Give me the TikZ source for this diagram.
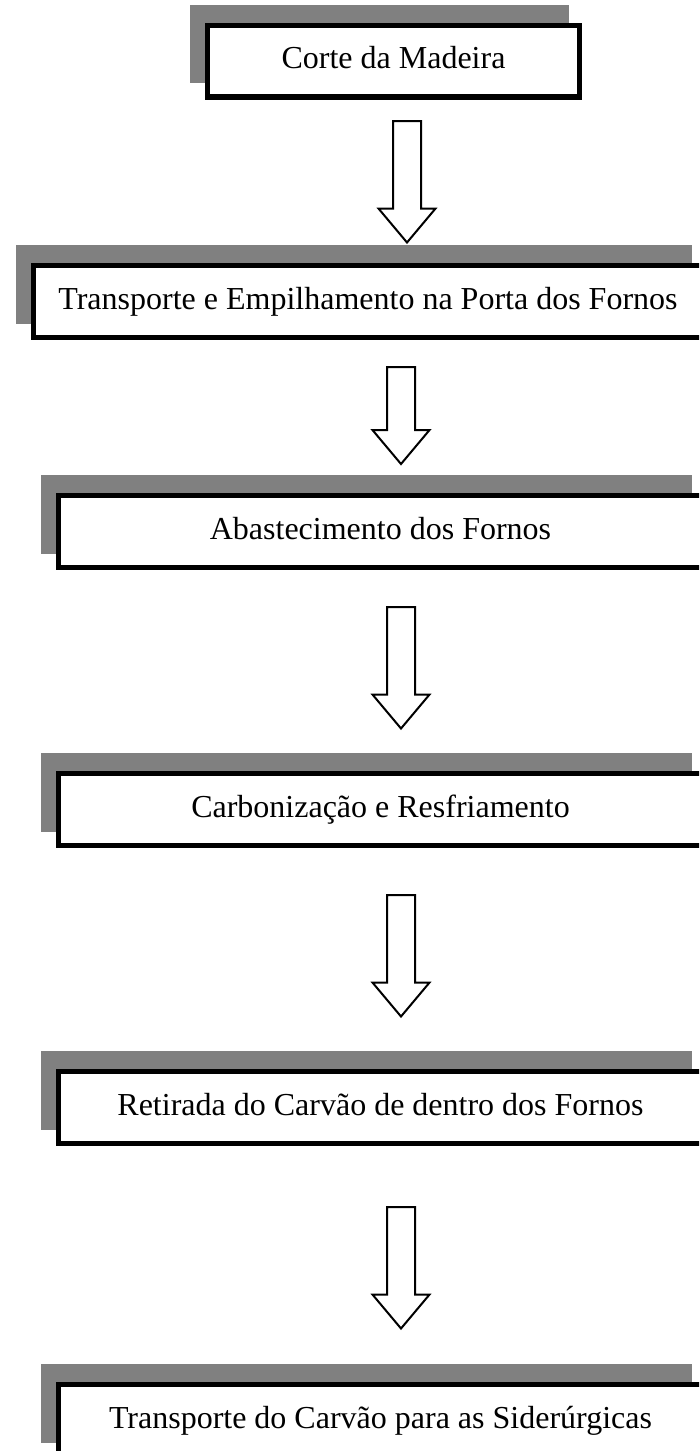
\PassOptionsToPackage{svgnames}{xcolor}
\documentclass[tikz,border=0pt]{standalone}
\usepackage{fontspec}
\setmainfont{Liberation Serif}
\usetikzlibrary{shapes.arrows,shadows}

\begin{document}
\begin{tikzpicture}[x=1pt,y=-1pt,
		stepbox/.style={draw, line width=5.3pt, fill=White, inner sep=0pt,
			minimum height=71.7pt, text height=22pt, text depth=7pt,
			font=\fontsize{32}{38}\selectfont,
			drop shadow={shadow xshift=-14pt, shadow yshift=17pt, fill=Gray,
				draw=Gray, line width=6.5pt, opacity=1}},
		downarrow/.style={single arrow, draw, line width=2pt, fill=White,
			rotate=-90, anchor=tail, inner xsep=0pt, inner ysep=13pt,
			single arrow head extend=14.5pt, single arrow tip angle=80,
			minimum height=121.5pt}]
		\path[use as bounding box, clip] (0,0) rectangle (699,1451);
		\node[stepbox, minimum width=371.7pt] (corte) at (393.5,61) {Corte da Madeira};
		\node[stepbox, minimum width=668.7pt] (empilha) at (368,301.5) {Transporte e Empilhamento na Porta dos Fornos};
		\node[stepbox, minimum width=643.7pt] (abast) at (380.5,531.5) {Abastecimento dos Fornos};
		\node[stepbox, minimum width=643.7pt] (carbon) at (380.5,809.5) {Carbonização e Resfriamento};
		\node[stepbox, minimum width=643.7pt] (retira) at (380.5,1107.5) {Retirada do Carvão de dentro dos Fornos};
		\node[stepbox, minimum width=643.7pt] (sider) at (380.5,1420.5) {Transporte do Carvão para as Siderúrgicas};
		\node[downarrow] (seta1) at (407,120) {};
		\node[downarrow, minimum height=97pt] (seta2) at (401,366) {};
		\node[downarrow] (seta3) at (401,606) {};
		\node[downarrow] (seta4) at (401,894) {};
		\node[downarrow] (seta5) at (401,1206) {};
	\end{tikzpicture}
\end{document}
